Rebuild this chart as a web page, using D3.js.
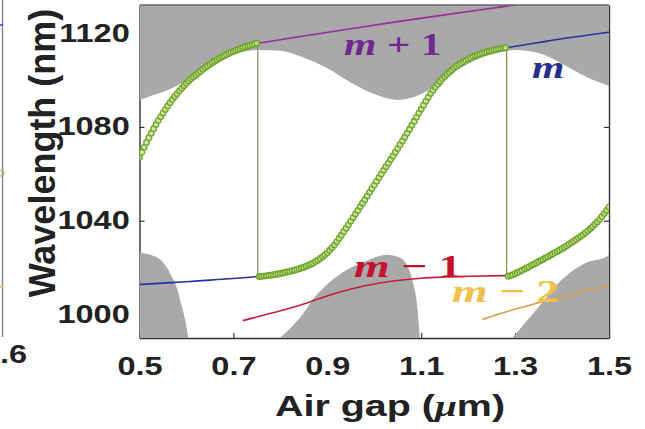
<!DOCTYPE html>
<html>
<head>
<meta charset="utf-8">
<script src="https://cdn.jsdelivr.net/npm/d3@7"></script>
<style>
  html, body { margin: 0; padding: 0; background: #fff; }
  svg { display: block; }
  text { white-space: pre; }
</style>
</head>
<body>
<svg id="chart" width="645" height="429"></svg>
<script>
// ---------------- data ----------------
const xTicks = [0.5, 0.7, 0.9, 1.1, 1.3, 1.5];
const yTicks = [1000, 1040, 1080, 1120];

// lasing-mode wavelength (nm) sampled every 0.005 um of air gap
const gapStep = 0.005;
const lasingStartA = 0.500;
const lasingA = [
  1067.0, 1069.2, 1071.3, 1073.4, 1075.4, 1077.3, 1079.2, 1081.0, 1082.7, 1084.3,
  1085.9, 1087.4, 1088.9, 1090.3, 1091.7, 1093.0, 1094.2, 1095.4, 1096.5, 1097.6,
  1098.6, 1099.6, 1100.5, 1101.4, 1102.2, 1103.0, 1103.8, 1104.6, 1105.3, 1106.0,
  1106.7, 1107.4, 1108.0, 1108.6, 1109.2, 1109.8, 1110.3, 1110.8, 1111.3, 1111.8,
  1112.2, 1112.6, 1113.0, 1113.4, 1113.8, 1114.2, 1114.5, 1114.8, 1115.1, 1115.4,
  1115.7
];
const lasingStartB = 0.755;
const lasingB = [
  1016.2, 1016.3, 1016.4, 1016.5, 1016.7, 1016.8, 1017.0, 1017.1, 1017.3, 1017.5,
  1017.7, 1017.9, 1018.2, 1018.4, 1018.7, 1018.9, 1019.2, 1019.5, 1019.9, 1020.2,
  1020.6, 1021.0, 1021.5, 1022.0, 1022.6, 1023.2, 1023.9, 1024.7, 1025.5, 1026.3,
  1027.4, 1028.5, 1029.7, 1031.0, 1032.4, 1033.8, 1035.3, 1036.8, 1038.3, 1039.8,
  1041.4, 1042.9, 1044.4, 1046.0, 1047.5, 1049.0, 1050.6, 1052.1, 1053.7, 1055.2,
  1056.8, 1058.4, 1059.9, 1061.5, 1063.0, 1064.5, 1066.1, 1067.6, 1069.2, 1070.8,
  1072.4, 1074.0, 1075.7, 1077.3, 1079.0, 1080.7, 1082.4, 1084.1, 1085.9, 1087.6,
  1089.3, 1091.0, 1092.7, 1094.3, 1095.7, 1097.0, 1098.2, 1099.4, 1100.5, 1101.5,
  1102.5, 1103.4, 1104.3, 1105.1, 1105.9, 1106.6, 1107.2, 1107.8, 1108.4, 1108.9,
  1109.4, 1109.9, 1110.3, 1110.7, 1111.0, 1111.4, 1111.7, 1112.0, 1112.3, 1112.5,
  1112.8, 1113.0, 1113.2, 1113.4, 1113.6, 1113.8
];
const lasingStartC = 1.285;
const lasingC = [
  1016.3, 1016.6, 1017.0, 1017.4, 1017.9, 1018.4, 1018.9, 1019.4, 1019.9, 1020.4,
  1021.0, 1021.5, 1022.0, 1022.6, 1023.1, 1023.6, 1024.2, 1024.7, 1025.3, 1025.8,
  1026.4, 1026.9, 1027.5, 1028.1, 1028.7, 1029.3, 1030.0, 1030.6, 1031.3, 1032.0,
  1032.7, 1033.4, 1034.1, 1034.9, 1035.7, 1036.6, 1037.5, 1038.5, 1039.5, 1040.6,
  1041.8, 1043.1, 1044.4, 1045.8
];
// air gaps where the lasing mode hops to the next order
const hopGaps = [0.752, 1.282];

// longitudinal modes (air gap um, wavelength nm)
const modeMp1Gap = [0.752, 0.85, 0.95, 1.05, 1.15, 1.25, 1.30];
const modeMp1Wl  = [1115.7, 1118.8, 1121.9, 1124.9, 1127.8, 1130.6, 1132.0];
const modeMGapA  = [0.50, 0.55, 0.60, 0.65, 0.70, 0.752];
const modeMWlA   = [1012.8, 1013.4, 1014.0, 1014.7, 1015.4, 1016.2];
const modeMGapB  = [1.282, 1.35, 1.40, 1.45, 1.50];
const modeMWlB   = [1113.8, 1116.0, 1117.6, 1119.0, 1120.4];
const modeMm1Gap = [0.72, 0.76, 0.80, 0.84, 0.88, 0.92, 0.96, 1.00, 1.05, 1.10, 1.15, 1.20, 1.282];
const modeMm1Wl  = [997.4, 999.5, 1001.6, 1003.9, 1006.6, 1009.2, 1011.3, 1013.0, 1014.5, 1015.5, 1016.0, 1016.3, 1016.6];
const modeMm2Gap = [1.23, 1.28, 1.33, 1.38, 1.43, 1.50];
const modeMm2Wl  = [997.9, 1001.1, 1003.9, 1006.6, 1009.1, 1012.2];

// stop bands (shaded): edge of each band
const upperBandGap = [0.50, 0.53, 0.56, 0.60, 0.65, 0.70, 0.75, 0.80, 0.85, 0.90, 0.95,
                      1.00, 1.05, 1.10, 1.15, 1.20, 1.25, 1.30, 1.35, 1.40, 1.45, 1.50];
const upperBandWl  = [1091.5, 1093.6, 1095.7, 1099.8, 1106.0, 1110.8, 1112.8, 1112.5, 1109.5, 1105.0, 1099.0,
                      1094.0, 1091.5, 1094.0, 1101.0, 1107.0, 1111.0, 1112.8, 1111.5, 1107.0, 1101.5, 1097.5];
const lowBand1Gap = [0.500, 0.523, 0.551, 0.570, 0.581, 0.589, 0.598, 0.604];
const lowBand1Wl  = [1026.4, 1025.5, 1022.1, 1015.7, 1010.6, 1004.3, 997.0, 990.0];
const lowBand2Gap = [0.799, 0.842, 0.878, 0.906, 0.942, 0.980, 1.027, 1.054, 1.069, 1.082, 1.092, 1.097];
const lowBand2Wl  = [990.0, 998.7, 1008.5, 1014.0, 1019.1, 1022.6, 1025.5, 1024.3, 1021.3, 1014.0, 1003.0, 990.0];
const lowBand3Gap = [1.294, 1.351, 1.400, 1.451, 1.494, 1.500];
const lowBand3Wl  = [990.0, 1003.4, 1014.9, 1022.1, 1024.7, 1025.5];

// ---------------- layout ----------------
const svg = d3.select("#chart");
const plotL = 139.5, plotR = 609, plotT = 5, plotB = 338;
const x = d3.scaleLinear().domain([0.5, 1.5]).range([plotL, plotR]);
const y = d3.scaleLinear().domain([990, 1132]).range([plotB, plotT]);
const sx = 1.3;           // wide lettering of the figure
const sansBold = "'Liberation Sans', Arial, Helvetica, sans-serif";
const serif = "'Liberation Serif', 'Times New Roman', serif";

const zip = (a, b) => a.map((v, i) => [v, b[i]]);

// remnant of the neighbouring panel at the far left
const prev = svg.append("g");
prev.append("line").attr("x1", 2.5).attr("x2", 2.5).attr("y1", 0).attr("y2", 337)
  .attr("stroke", "#8a8a8a").attr("stroke-width", 1.5);
prev.append("line").attr("x1", 0).attr("x2", 3).attr("y1", 25).attr("y2", 25)
  .attr("stroke", "#3040b0").attr("stroke-width", 1.5);
prev.append("circle").attr("cx", 1).attr("cy", 173).attr("r", 3)
  .attr("fill", "none").attr("stroke", "#9cc45a").attr("stroke-width", 1.2);
prev.append("line").attr("x1", 0).attr("x2", 3).attr("y1", 287).attr("y2", 287)
  .attr("stroke", "#e0b060").attr("stroke-width", 1.5);
prev.append("text").attr("transform", `translate(0,363) scale(${sx},1)`)
  .attr("text-anchor", "start").attr("font-family", sansBold).attr("font-weight", "bold")
  .attr("font-size", 25).attr("fill", "#222").text(".6");

// ---------------- axes (drawn first; bands cover them) ----------------
const axisColor = "#333";
function styleAxis(g) {
  g.selectAll("path.domain").attr("stroke", axisColor).attr("stroke-width", 1.4);
  g.selectAll(".tick line").attr("stroke", axisColor).attr("stroke-width", 1.2);
  g.selectAll(".tick text")
    .attr("font-family", sansBold).attr("font-weight", "bold")
    .attr("font-size", 25).attr("fill", "#222")
    .attr("transform", `scale(${sx},1)`);
}
svg.append("g").attr("transform", `translate(0,${plotB})`)
  .call(d3.axisBottom(x).tickValues(xTicks).tickFormat(d3.format(".1f"))
        .tickSize(-5).tickSizeOuter(0).tickPadding(19))
  .call(styleAxis);
svg.append("g").attr("transform", `translate(${plotL},0)`)
  .call(d3.axisLeft(y).tickValues(yTicks).tickFormat(d3.format("d"))
        .tickSize(-5).tickSizeOuter(0).tickPadding(7.5))
  .call(styleAxis);
svg.append("g").attr("transform", `translate(${plotR},0)`)
  .call(d3.axisRight(y).tickValues(yTicks).tickFormat(() => "")
        .tickSize(-5).tickSizeOuter(0))
  .call(styleAxis);

// ---------------- stop bands ----------------
const bandFill = "#a9a9a9";
svg.append("clipPath").attr("id", "plotclip")
  .append("rect").attr("x", plotL).attr("y", plotT).attr("width", plotR - plotL).attr("height", plotB - plotT);
const plot = svg.append("g").attr("clip-path", "url(#plotclip)");

const upperArea = d3.area().x(d => x(d[0])).y0(y(1132)).y1(d => y(d[1])).curve(d3.curveMonotoneX);
const lowerArea = d3.area().x(d => x(d[0])).y0(y(990)).y1(d => y(d[1])).curve(d3.curveMonotoneX);
plot.append("path").attr("d", upperArea(zip(upperBandGap, upperBandWl))).attr("fill", bandFill);
[[lowBand1Gap, lowBand1Wl], [lowBand2Gap, lowBand2Wl], [lowBand3Gap, lowBand3Wl]].forEach(([g, w]) => {
  plot.append("path").attr("d", lowerArea(zip(g, w))).attr("fill", bandFill);
});

// ---------------- mode lines ----------------
const line = d3.line().x(d => x(d[0])).y(d => y(d[1])).curve(d3.curveMonotoneX);
const modes = [
  [modeMGapA, modeMWlA, "#2233a0"],
  [modeMGapB, modeMWlB, "#2233a0"],
  [modeMm1Gap, modeMm1Wl, "#c41e3a"],
  [modeMm2Gap, modeMm2Wl, "#d6a040"],
  [modeMp1Gap, modeMp1Wl, "#9a2c9c"]
];
modes.forEach(([g, w, c]) => {
  plot.append("path").attr("d", line(zip(g, w)))
    .attr("fill", "none").attr("stroke", c).attr("stroke-width", 1.6);
});

// ---------------- lasing mode ----------------
const hops = [
  [hopGaps[0], lasingA[lasingA.length - 1], lasingB[0]],
  [hopGaps[1], lasingB[lasingB.length - 1], lasingC[0]]
];
hops.forEach(([g, w1, w2]) => {
  plot.append("line").attr("x1", x(g)).attr("x2", x(g)).attr("y1", y(w1)).attr("y2", y(w2))
    .attr("stroke", "#7d8a55").attr("stroke-width", 1.2);
});
const lasingPts = [];
[[lasingStartA, lasingA], [lasingStartB, lasingB], [lasingStartC, lasingC]].forEach(([s, arr]) => {
  arr.forEach((w, i) => lasingPts.push([s + i * gapStep, w]));
});
plot.append("g").selectAll("circle").data(lasingPts).join("circle")
  .attr("cx", d => x(d[0])).attr("cy", d => y(d[1])).attr("r", 2.8)
  .attr("fill", "#c9e08f").attr("fill-opacity", 0.75)
  .attr("stroke", "#6ea52c").attr("stroke-width", 1.3);

// ---------------- mode labels ----------------
function modeLabel(px, py, color, rest, scaleX) {
  const t = svg.append("text")
    .attr("transform", `translate(${px},${py}) scale(${scaleX},1)`)
    .attr("font-family", serif).attr("font-weight", "bold")
    .attr("font-size", 32).attr("fill", color);
  t.append("tspan").attr("font-style", "italic").text("m");
  if (rest) t.append("tspan").text(rest);
}
modeLabel(344, 55, "#6e2a8e", " + 1", 1.3);
modeLabel(532, 78, "#26308c", "", 1.3);
modeLabel(354, 277, "#c8102e", " \u2212 1", 1.43);
modeLabel(452, 302, "#f0c04a", " \u2212 2", 1.43);

// top edge of the box
svg.append("line").attr("x1", plotL).attr("x2", plotR).attr("y1", plotT).attr("y2", plotT)
  .attr("stroke", "#666").attr("stroke-width", 1.6);

// ---------------- axis titles ----------------
const xt = svg.append("text")
  .attr("transform", `translate(390,416) scale(1.36,1)`)
  .attr("text-anchor", "middle").attr("font-family", sansBold).attr("font-weight", "bold")
  .attr("font-size", 29).attr("fill", "#222");
xt.append("tspan").text("Air gap (");
xt.append("tspan").attr("font-family", serif).attr("font-style", "italic").text("\u03bc");
xt.append("tspan").text("m)");

svg.append("text")
  .attr("transform", "translate(55,153) rotate(-90)")
  .attr("text-anchor", "middle").attr("font-family", sansBold).attr("font-weight", "bold")
  .attr("font-size", 36).attr("fill", "#222")
  .text("Wavelength (nm)");
</script>
</body>
</html>
